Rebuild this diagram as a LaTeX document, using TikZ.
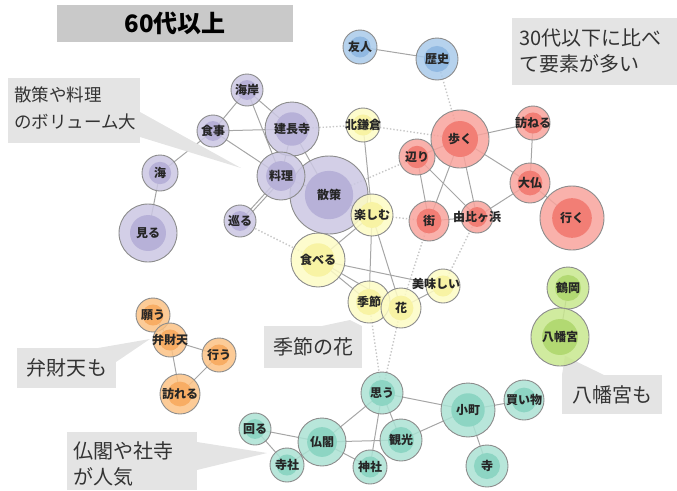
\documentclass[tikz,border=0pt]{standalone}
\usepackage{fontspec}
\setmainfont{Noto Sans CJK JP}
\usetikzlibrary{backgrounds}
\definecolor{po}{HTML}{CBC7E3}\definecolor{pi}{HTML}{B7B1D8}
\definecolor{ro}{HTML}{F8A39C}\definecolor{ri}{HTML}{F27E75}
\definecolor{bo}{HTML}{A9CAEA}\definecolor{bi}{HTML}{91B9E2}
\definecolor{yo}{HTML}{FDFBC4}\definecolor{yi}{HTML}{F8F3A4}
\definecolor{oo}{HTML}{FBC285}\definecolor{oi}{HTML}{F8AD64}
\definecolor{go}{HTML}{C8E78E}\definecolor{gi}{HTML}{B2D972}
\definecolor{to}{HTML}{ABE2D4}\definecolor{ti}{HTML}{8DD5C3}
\definecolor{callout}{HTML}{E4E4E4}
\definecolor{titlebg}{HTML}{C9C9C9}
\definecolor{ctext}{HTML}{333333}
\tikzset{
  bubble/.style={circle,draw=black!45,line width=0.9pt,inner sep=0pt,fill opacity=0.85},
  lbl/.style={font=\bfseries\fontsize{12}{12}\selectfont,text=black!85,inner sep=0pt},
  edge/.style={draw=black!35,line width=1pt},
  dedge/.style={draw=black!22,line width=1.4pt,dotted},
  cbox/.style={fill=callout},
  ctxt/.style={font=\fontsize{20}{26}\selectfont,text=ctext,align=left,inner sep=0pt,anchor=north west},
}
\newcommand\bub[7]{%
  \node[bubble,minimum size=#4*2pt,fill=#5] (#1) at (#2,#3) {};
  \fill[#6] (#1.center) circle[radius=#4*0.62pt];
  \node[lbl] at (#1.center) {#7};}
\begin{document}
\begin{tikzpicture}[x=1pt,y=-1pt]
\useasboundingbox (0,0) rectangle (677,490);
% title
\fill[titlebg] (57,5) rectangle (293,42);
\node[font=\bfseries\fontsize{24}{26}\selectfont] (title) at (175,23.5) {60代以上};
% callouts
\fill[cbox] (8,78) rectangle (140,143);
\fill[cbox] (140,112) -- (241,168) -- (140,137) -- cycle;
\node[ctxt,font=\fontsize{17.5}{27}\selectfont] (c1) at (14,87) {散策や料理\\のボリューム大};
\fill[cbox] (512,18) rectangle (677,85);
\node[ctxt] (c2) at (519,29) {30代以下に比べ\\て要素が多い};
\fill[cbox] (17,348) rectangle (116,388);
\fill[cbox] (98,348) -- (150,339) -- (116,362) -- cycle;
\node[ctxt,anchor=center] (c3) at (67,368) {弁財天も};
\fill[cbox] (264,326) rectangle (362,368);
\fill[cbox] (322,326) -- (350,320) -- (362,326) -- cycle;
\node[ctxt,anchor=center] (c4) at (313,347) {季節の花};
\fill[cbox] (562,375) rectangle (662,414);
\fill[cbox] (562,375) -- (565,356) -- (604,375) -- cycle;
\node[ctxt,anchor=center] (c5) at (612,395) {八幡宮も};
\fill[cbox] (67,432) rectangle (197,490);
\fill[cbox] (197,442) -- (267,453) -- (197,470) -- cycle;
\node[ctxt] (c6) at (73,441) {仏閣や社寺\\が人気};
% bubbles
\bub{kaigan}{247}{90}{16}{po}{pi}{海岸}
\bub{shokuji}{213}{131}{16}{po}{pi}{食事}
\bub{kencho}{292}{129}{27}{po}{pi}{建長寺}
\bub{umi}{160}{173}{18}{po}{pi}{海}
\bub{miru}{148}{233}{29}{po}{pi}{見る}
\bub{meguru}{240}{221}{16}{po}{pi}{巡る}
\bub{sansaku}{329}{195}{39}{po}{pi}{散策}
\bub{ryouri}{281}{176}{24}{po}{pi}{料理}
\bub{yujin}{360}{47}{17}{bo}{bi}{友人}
\bub{rekishi}{437}{59}{21}{bo}{bi}{歴史}
\bub{kitakama}{363}{125}{17}{yo}{yi}{北鎌倉}
\bub{tanoshimu}{372}{215}{21}{yo}{yi}{楽しむ}
\bub{taberu}{318}{260}{27}{yo}{yi}{食べる}
\bub{oishii}{443}{286}{17}{yo}{yi}{}
\bub{kisetsu}{369}{302}{21}{yo}{yi}{季節}
\bub{hana}{401}{308}{20}{yo}{yi}{花}
\node[lbl] (oishiilbl) at (436,284) {美味しい};
\bub{aruku}{460}{139}{29}{ro}{ri}{歩く}
\bub{tazuneru}{533}{123}{17}{ro}{ri}{訪ねる}
\bub{atari}{417}{157}{18}{ro}{ri}{辺り}
\bub{daibutsu}{530}{183}{20}{ro}{ri}{大仏}
\bub{iku}{572}{218}{32}{ro}{ri}{行く}
\bub{machi}{429}{221}{20}{ro}{ri}{街}
\bub{yuigahama}{477}{217}{16}{ro}{ri}{由比ヶ浜}
\bub{tsuruoka}{568}{288}{21}{go}{gi}{鶴岡}
\bub{hachiman}{560}{337}{29}{go}{gi}{八幡宮}
\bub{negau}{153}{315}{17}{oo}{oi}{願う}
\bub{benzaiten}{170}{340}{17}{oo}{oi}{弁財天}
\bub{okonau}{219}{355}{17}{oo}{oi}{行う}
\bub{otozureru}{180}{394}{20}{oo}{oi}{訪れる}
\bub{mawaru}{255}{429}{16}{to}{ti}{回る}
\bub{jisha}{287}{465}{17}{to}{ti}{寺社}
\bub{bukkaku}{322}{442}{24}{to}{ti}{仏閣}
\bub{jinja}{370}{467}{17}{to}{ti}{神社}
\bub{kankou}{401}{440}{21}{to}{ti}{観光}
\bub{omou}{382}{393}{21}{to}{ti}{思う}
\bub{komachi}{468}{410}{27}{to}{ti}{小町}
\bub{kaimono}{524}{400}{20}{to}{ti}{買い物}
\bub{tera}{487}{466}{21}{to}{ti}{寺}
% edges
\begin{scope}[on background layer]
\foreach \a/\b in {kaigan/shokuji,kaigan/kencho,kaigan/ryouri,shokuji/kencho,shokuji/ryouri,shokuji/umi,umi/miru,ryouri/meguru,ryouri/kencho,ryouri/sansaku,kencho/sansaku,sansaku/tanoshimu,
 yujin/rekishi,
 aruku/tazuneru,aruku/daibutsu,aruku/atari,aruku/machi,aruku/yuigahama,atari/machi,atari/yuigahama,tazuneru/daibutsu,daibutsu/yuigahama,daibutsu/iku,machi/yuigahama,
 kitakama/tanoshimu,tanoshimu/taberu,tanoshimu/kisetsu,tanoshimu/hana,taberu/kisetsu,taberu/hana,taberu/oishii,kisetsu/hana,hana/oishii,
 tsuruoka/hachiman,
 negau/benzaiten,benzaiten/okonau,benzaiten/otozureru,okonau/otozureru,
 mawaru/bukkaku,mawaru/jisha,jisha/bukkaku,bukkaku/omou,bukkaku/kankou,bukkaku/jinja,omou/kankou,omou/jinja,omou/komachi,kankou/komachi,komachi/kaimono,komachi/tera}
  {\draw[edge] (\a.center) -- (\b.center);}
\draw[edge] ([xshift=4pt]meguru.center) -- ([xshift=4pt]ryouri.center);
\foreach \a/\b in {rekishi/aruku,kencho/kitakama,kitakama/aruku,sansaku/atari,tanoshimu/machi,meguru/taberu,kisetsu/omou,hana/omou,hana/machi,oishii/yuigahama}
  {\draw[dedge] (\a.center) -- (\b.center);}
\end{scope}
\end{tikzpicture}
\end{document}
